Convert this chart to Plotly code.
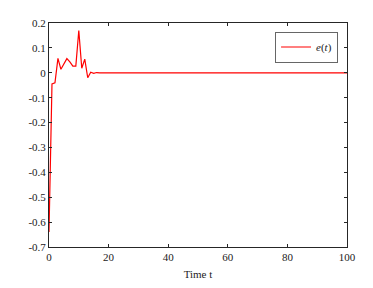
import plotly.graph_objects as go

t = [0, 1, 2, 3, 4, 5, 6, 7, 8, 9, 10, 11, 12, 13, 14, 15, 16, 17, 18, 20, 30, 40, 50, 60, 70, 80, 90, 100]
e = [-0.64, -0.045, -0.04, 0.058, 0.014, 0.037, 0.057, 0.044, 0.027, 0.027, 0.17, 0.018, 0.055, -0.02, 0.002, -0.002, 0.001, 0.0, 0.0, 0.0, 0.0, 0.0, 0.0, 0.0, 0.0, 0.0, 0.0, 0.0]

x_ticks = [0, 20, 40, 60, 80, 100]
y_ticks = [-0.7, -0.6, -0.5, -0.4, -0.3, -0.2, -0.1, 0, 0.1, 0.2]
y_labels = ["-0.7", "-0.6", "-0.5", "-0.4", "-0.3", "-0.2", "-0.1", "0", "0.1", "0.2"]

fig = go.Figure()
fig.add_trace(go.Scatter(x=t, y=e, mode="lines", name="<i>e</i>(<i>t</i>)",
                         line=dict(color="#ff0000", width=1.2)))

axis_common = dict(showline=True, linecolor="#262626", linewidth=1, mirror="ticks",
                   ticks="inside", ticklen=3, tickcolor="#262626", showgrid=False,
                   zeroline=False, tickfont=dict(family="Liberation Serif", size=11, color="#222"))

fig.update_xaxes(range=[0, 100], tickvals=x_ticks, ticktext=[str(v) for v in x_ticks],
                 title=dict(text="Time t", font=dict(family="Liberation Serif", size=11, color="#222"), standoff=8),
                 **axis_common)
fig.update_yaxes(range=[-0.7, 0.2], tickvals=y_ticks, ticktext=y_labels, **axis_common)

# page body has an 8px default margin, so the figure is sized to compensate
fig.update_layout(width=365, height=280, margin=dict(l=41, r=26, t=9, b=36),
                  plot_bgcolor="white", paper_bgcolor="white",
                  showlegend=True,
                  legend=dict(x=0.97, y=0.962, xanchor="right", yanchor="top",
                              bgcolor="white", bordercolor="#666", borderwidth=1,
                              font=dict(family="Liberation Serif", size=11, color="#222"),
                              tracegroupgap=0, itemwidth=30))

fig.write_html("out.html")
